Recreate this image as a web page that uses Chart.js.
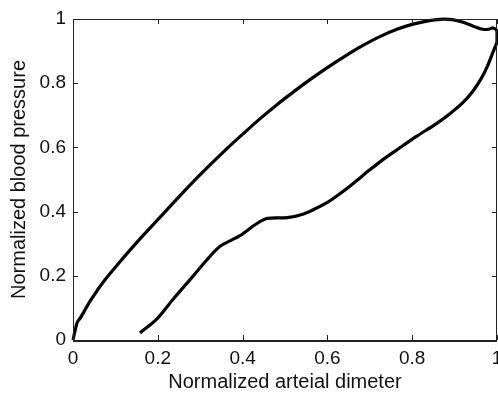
<!DOCTYPE html>
<html>
<head>
<meta charset="utf-8">
<script src="https://cdn.jsdelivr.net/npm/chart.js@4"></script>
<style>
  html, body { margin: 0; padding: 0; background: #fff; }
  #wrap { width: 498px; height: 393px; }
</style>
</head>
<body>
<div id="wrap"><canvas id="loopChart" width="498" height="393"></canvas></div>
<script>
// diameter (x) and pressure (y); loading branch first, then unloading
const upperX = [0, 0.005, 0.01, 0.017, 0.04, 0.071, 0.118, 0.158, 0.205, 0.252, 0.30, 0.363, 0.401, 0.44, 0.481, 0.52, 0.559, 0.606, 0.653, 0.684, 0.725, 0.764, 0.802, 0.84, 0.866, 0.895, 0.92, 0.943, 0.967, 0.98, 0.991, 1.0];
const upperY = [0, 0.03, 0.055, 0.068, 0.12, 0.18, 0.255, 0.315, 0.382, 0.449, 0.515, 0.596, 0.642, 0.688, 0.733, 0.773, 0.811, 0.854, 0.894, 0.918, 0.946, 0.968, 0.984, 0.995, 0.999, 0.998, 0.99, 0.978, 0.968, 0.968, 0.972, 0.962];
const lowerX = [1.0, 0.99, 0.978, 0.963, 0.943, 0.92, 0.889, 0.858, 0.811, 0.77, 0.731, 0.70, 0.646, 0.613, 0.599, 0.57, 0.542, 0.505, 0.458, 0.44, 0.425, 0.394, 0.347, 0.316, 0.276, 0.236, 0.198, 0.158];
const lowerY = [0.93, 0.895, 0.855, 0.815, 0.775, 0.74, 0.705, 0.675, 0.635, 0.598, 0.562, 0.53, 0.472, 0.44, 0.428, 0.408, 0.392, 0.381, 0.379, 0.368, 0.355, 0.325, 0.292, 0.25, 0.188, 0.127, 0.066, 0.022];
const tickValues = [0, 0.2, 0.4, 0.6, 0.8, 1];

const loopX = upperX.concat(lowerX);
const loopY = upperY.concat(lowerY);
const points = loopX.map((x, i) => ({ x: x, y: loopY[i] }));

const family = "'Liberation Sans', Arial, sans-serif";
const tickFont = { family: family, size: 19 };
const titleFont = { family: family, size: 20, lineHeight: 1 };
const textColor = '#111';
const fmt = v => String(Math.round(v * 10) / 10);

// white page + matlab style box with inward ticks on all four sides
const boxPlugin = {
    id: 'box',
    beforeDraw(chart) {
        const ctx = chart.ctx;
        ctx.save();
        ctx.fillStyle = '#fff';
        ctx.fillRect(0, 0, chart.width, chart.height);
        ctx.restore();
    },
    afterDraw(chart) {
        const ctx = chart.ctx;
        const a = chart.chartArea;
        const xs = chart.scales.x, ys = chart.scales.y;
        const len = 5;
        ctx.save();
        ctx.strokeStyle = '#222';
        ctx.lineWidth = 1;
        ctx.strokeRect(Math.round(a.left) + 0.5, Math.round(a.top) + 0.5,
            Math.round(a.right - a.left) - 1, Math.round(a.bottom - a.top));
        ctx.beginPath();
        tickValues.forEach(v => {
            const px = Math.round(xs.getPixelForValue(v)) + 0.5;
            ctx.moveTo(px, a.bottom); ctx.lineTo(px, a.bottom - len);
            ctx.moveTo(px, a.top); ctx.lineTo(px, a.top + len);
            const py = Math.round(ys.getPixelForValue(v)) + 0.5;
            ctx.moveTo(a.left, py); ctx.lineTo(a.left + len, py);
            ctx.moveTo(a.right, py); ctx.lineTo(a.right - len, py);
        });
        ctx.stroke();
        // slightly heavier bottom axis, as in the figure
        ctx.lineWidth = 2;
        ctx.beginPath();
        ctx.moveTo(a.left, Math.round(a.bottom) + 1);
        ctx.lineTo(a.right, Math.round(a.bottom) + 1);
        ctx.stroke();
        ctx.restore();
    }
};

const ctx = document.getElementById('loopChart').getContext('2d');
const loopChart = new Chart(ctx, {
    type: 'scatter',
    data: {
        datasets: [{
            data: points,
            showLine: true,
            borderColor: '#000',
            borderWidth: 3.2,
            pointRadius: 0,
            tension: 0.3,
            fill: false,
            clip: 4
        }]
    },
    options: {
        responsive: false,
        animation: false,
        layout: { padding: { top: 19, right: 1, left: 0, bottom: 0 } },
        plugins: {
            legend: { display: false },
            tooltip: { enabled: false }
        },
        scales: {
            x: {
                type: 'linear',
                min: 0,
                max: 1,
                grid: { display: false, drawTicks: false },
                border: { display: false },
                ticks: { stepSize: 0.2, padding: 7, color: textColor, font: tickFont, maxRotation: 0, callback: fmt },
                title: {
                    display: true,
                    text: 'Normalized arteial dimeter',
                    color: textColor,
                    font: titleFont,
                    padding: { top: 0, bottom: 1 }
                },
                afterFit(scale) {
                    scale.height = 53;
                    scale.paddingLeft = 0;
                    scale.paddingRight = 0;
                }
            },
            y: {
                type: 'linear',
                min: 0,
                max: 1,
                grid: { display: false, drawTicks: false },
                border: { display: false },
                ticks: { stepSize: 0.2, padding: 7, color: textColor, font: tickFont, callback: fmt },
                title: {
                    display: true,
                    text: 'Normalized blood pressure',
                    color: textColor,
                    font: titleFont,
                    padding: { top: 9, bottom: 0 }
                },
                afterFit(scale) {
                    scale.width = 73;
                    scale.paddingTop = 0;
                    scale.paddingBottom = 0;
                }
            }
        }
    },
    plugins: [boxPlugin]
});
</script>
</body>
</html>
